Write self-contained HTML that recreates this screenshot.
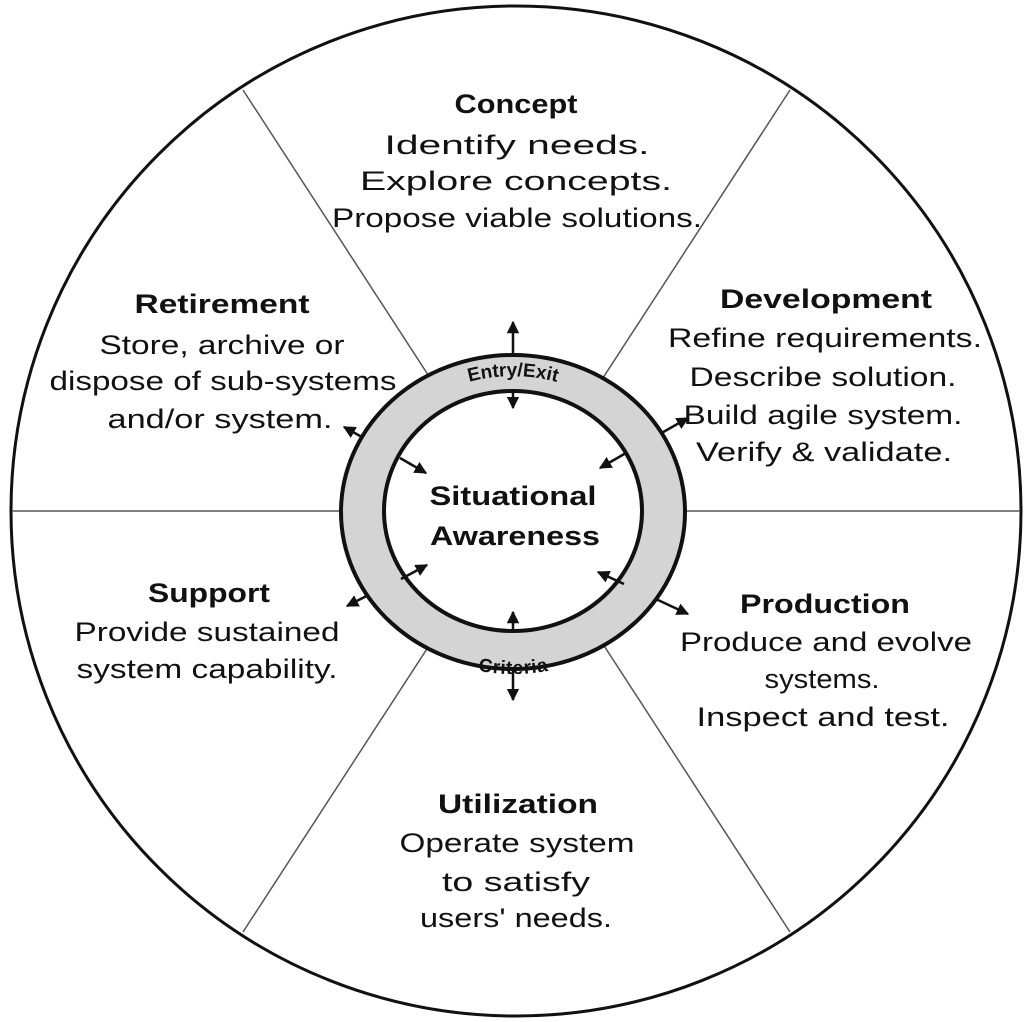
<!DOCTYPE html>
<html><head><meta charset="utf-8"><style>
html,body{margin:0;padding:0;background:#fff;}
svg{display:block;}
text{font-family:"Liberation Sans",sans-serif;font-size:27px;fill:#111;}
.b{font-weight:bold;}
</style></head><body>
<svg width="1030" height="1022" viewBox="0 0 1030 1022" xmlns="http://www.w3.org/2000/svg">
<defs>
<marker id="ah" viewBox="0 0 10 10" refX="9" refY="5" markerWidth="5" markerHeight="5" orient="auto-start-reverse"><path d="M0,0 L10,5 L0,10 z" fill="#111"/></marker>
<path id="topArc" d="M 362 512 A 151 136 0 0 1 664 512"/>
<path id="botArc" d="M 350 512 A 163 148 0 0 0 676 512"/>
</defs>
<circle cx="516" cy="511" r="505" fill="#fff" stroke="#111" stroke-width="3"/>
<g stroke="#555" stroke-width="1.5">
<line x1="12" y1="511" x2="516" y2="511"/>
<line x1="516" y1="511" x2="1020" y2="511"/>
<line x1="243" y1="90" x2="790" y2="932"/>
<line x1="790" y1="90" x2="243" y2="932"/>
</g>
<g stroke="#111" stroke-width="2.5" fill="none">
<line x1="513" y1="322" x2="513" y2="408" marker-start="url(#ah)" marker-end="url(#ah)"/>
<line x1="513" y1="612" x2="513" y2="700" marker-start="url(#ah)" marker-end="url(#ah)"/>
<line x1="344" y1="427" x2="426" y2="473" marker-start="url(#ah)" marker-end="url(#ah)"/>
<line x1="688" y1="418" x2="600" y2="468" marker-start="url(#ah)" marker-end="url(#ah)"/>
<line x1="347" y1="606" x2="427" y2="565" marker-start="url(#ah)" marker-end="url(#ah)"/>
<line x1="688" y1="614" x2="598" y2="572" marker-start="url(#ah)" marker-end="url(#ah)"/>
</g>
<ellipse cx="513" cy="512" rx="172" ry="157" fill="#d4d4d4" stroke="#111" stroke-width="4"/>
<ellipse cx="513" cy="511" rx="129" ry="120" fill="#fff" stroke="#111" stroke-width="4"/>
<g stroke="#111" stroke-width="2.5" fill="none">
<line x1="513" y1="392" x2="513" y2="408" marker-end="url(#ah)"/>
<line x1="513" y1="630" x2="513" y2="612" marker-end="url(#ah)"/>
<line x1="400" y1="458" x2="426" y2="473" marker-end="url(#ah)"/>
<line x1="626" y1="453" x2="600" y2="468" marker-end="url(#ah)"/>
<line x1="401" y1="579" x2="427" y2="565" marker-end="url(#ah)"/>
<line x1="624" y1="584" x2="598" y2="572" marker-end="url(#ah)"/>
</g>
<text class="b" style="font-size:19px" text-anchor="middle"><textPath href="#topArc" startOffset="50%">Entry/Exit</textPath></text>
<text class="b" style="font-size:19px" text-anchor="middle" dy="14"><textPath href="#botArc" startOffset="50%">Criteria</textPath></text>

<g text-anchor="middle" lengthAdjust="spacingAndGlyphs">
<text class="b" x="516" y="113" textLength="123" lengthAdjust="spacingAndGlyphs">Concept</text>
<text x="517" y="154" textLength="265" lengthAdjust="spacingAndGlyphs">Identify needs.</text>
<text x="516" y="190" textLength="312" lengthAdjust="spacingAndGlyphs">Explore concepts.</text>
<text x="517" y="227" textLength="370" lengthAdjust="spacingAndGlyphs">Propose viable solutions.</text>

<text class="b" x="222" y="313" textLength="175" lengthAdjust="spacingAndGlyphs">Retirement</text>
<text x="222" y="354" textLength="245" lengthAdjust="spacingAndGlyphs">Store, archive or</text>
<text x="223" y="390" textLength="347" lengthAdjust="spacingAndGlyphs">dispose of sub-systems</text>
<text x="220" y="428" textLength="225" lengthAdjust="spacingAndGlyphs">and/or system.</text>

<text class="b" x="826" y="308" textLength="212" lengthAdjust="spacingAndGlyphs">Development</text>
<text x="825" y="347" textLength="314" lengthAdjust="spacingAndGlyphs">Refine requirements.</text>
<text x="823" y="386" textLength="267" lengthAdjust="spacingAndGlyphs">Describe solution.</text>
<text x="823" y="424" textLength="279" lengthAdjust="spacingAndGlyphs">Build agile system.</text>
<text x="824" y="461" textLength="256" lengthAdjust="spacingAndGlyphs">Verify &amp; validate.</text>

<text class="b" x="825" y="613" textLength="170" lengthAdjust="spacingAndGlyphs">Production</text>
<text x="826" y="651" textLength="292" lengthAdjust="spacingAndGlyphs">Produce and evolve</text>
<text x="822" y="688" textLength="115" lengthAdjust="spacingAndGlyphs">systems.</text>
<text x="823" y="726" textLength="253" lengthAdjust="spacingAndGlyphs">Inspect and test.</text>

<text class="b" x="209" y="602" textLength="122" lengthAdjust="spacingAndGlyphs">Support</text>
<text x="207" y="641" textLength="265" lengthAdjust="spacingAndGlyphs">Provide sustained</text>
<text x="207" y="678" textLength="261" lengthAdjust="spacingAndGlyphs">system capability.</text>

<text class="b" x="518" y="813" textLength="160" lengthAdjust="spacingAndGlyphs">Utilization</text>
<text x="517" y="852" textLength="235" lengthAdjust="spacingAndGlyphs">Operate system</text>
<text x="516" y="891" textLength="148" lengthAdjust="spacingAndGlyphs">to satisfy</text>
<text x="516" y="927" textLength="192" lengthAdjust="spacingAndGlyphs">users' needs.</text>

<text class="b" x="513" y="505" textLength="167" lengthAdjust="spacingAndGlyphs">Situational</text>
<text class="b" x="515" y="545" textLength="170" lengthAdjust="spacingAndGlyphs">Awareness</text>
</g>
</svg>
</body></html>
